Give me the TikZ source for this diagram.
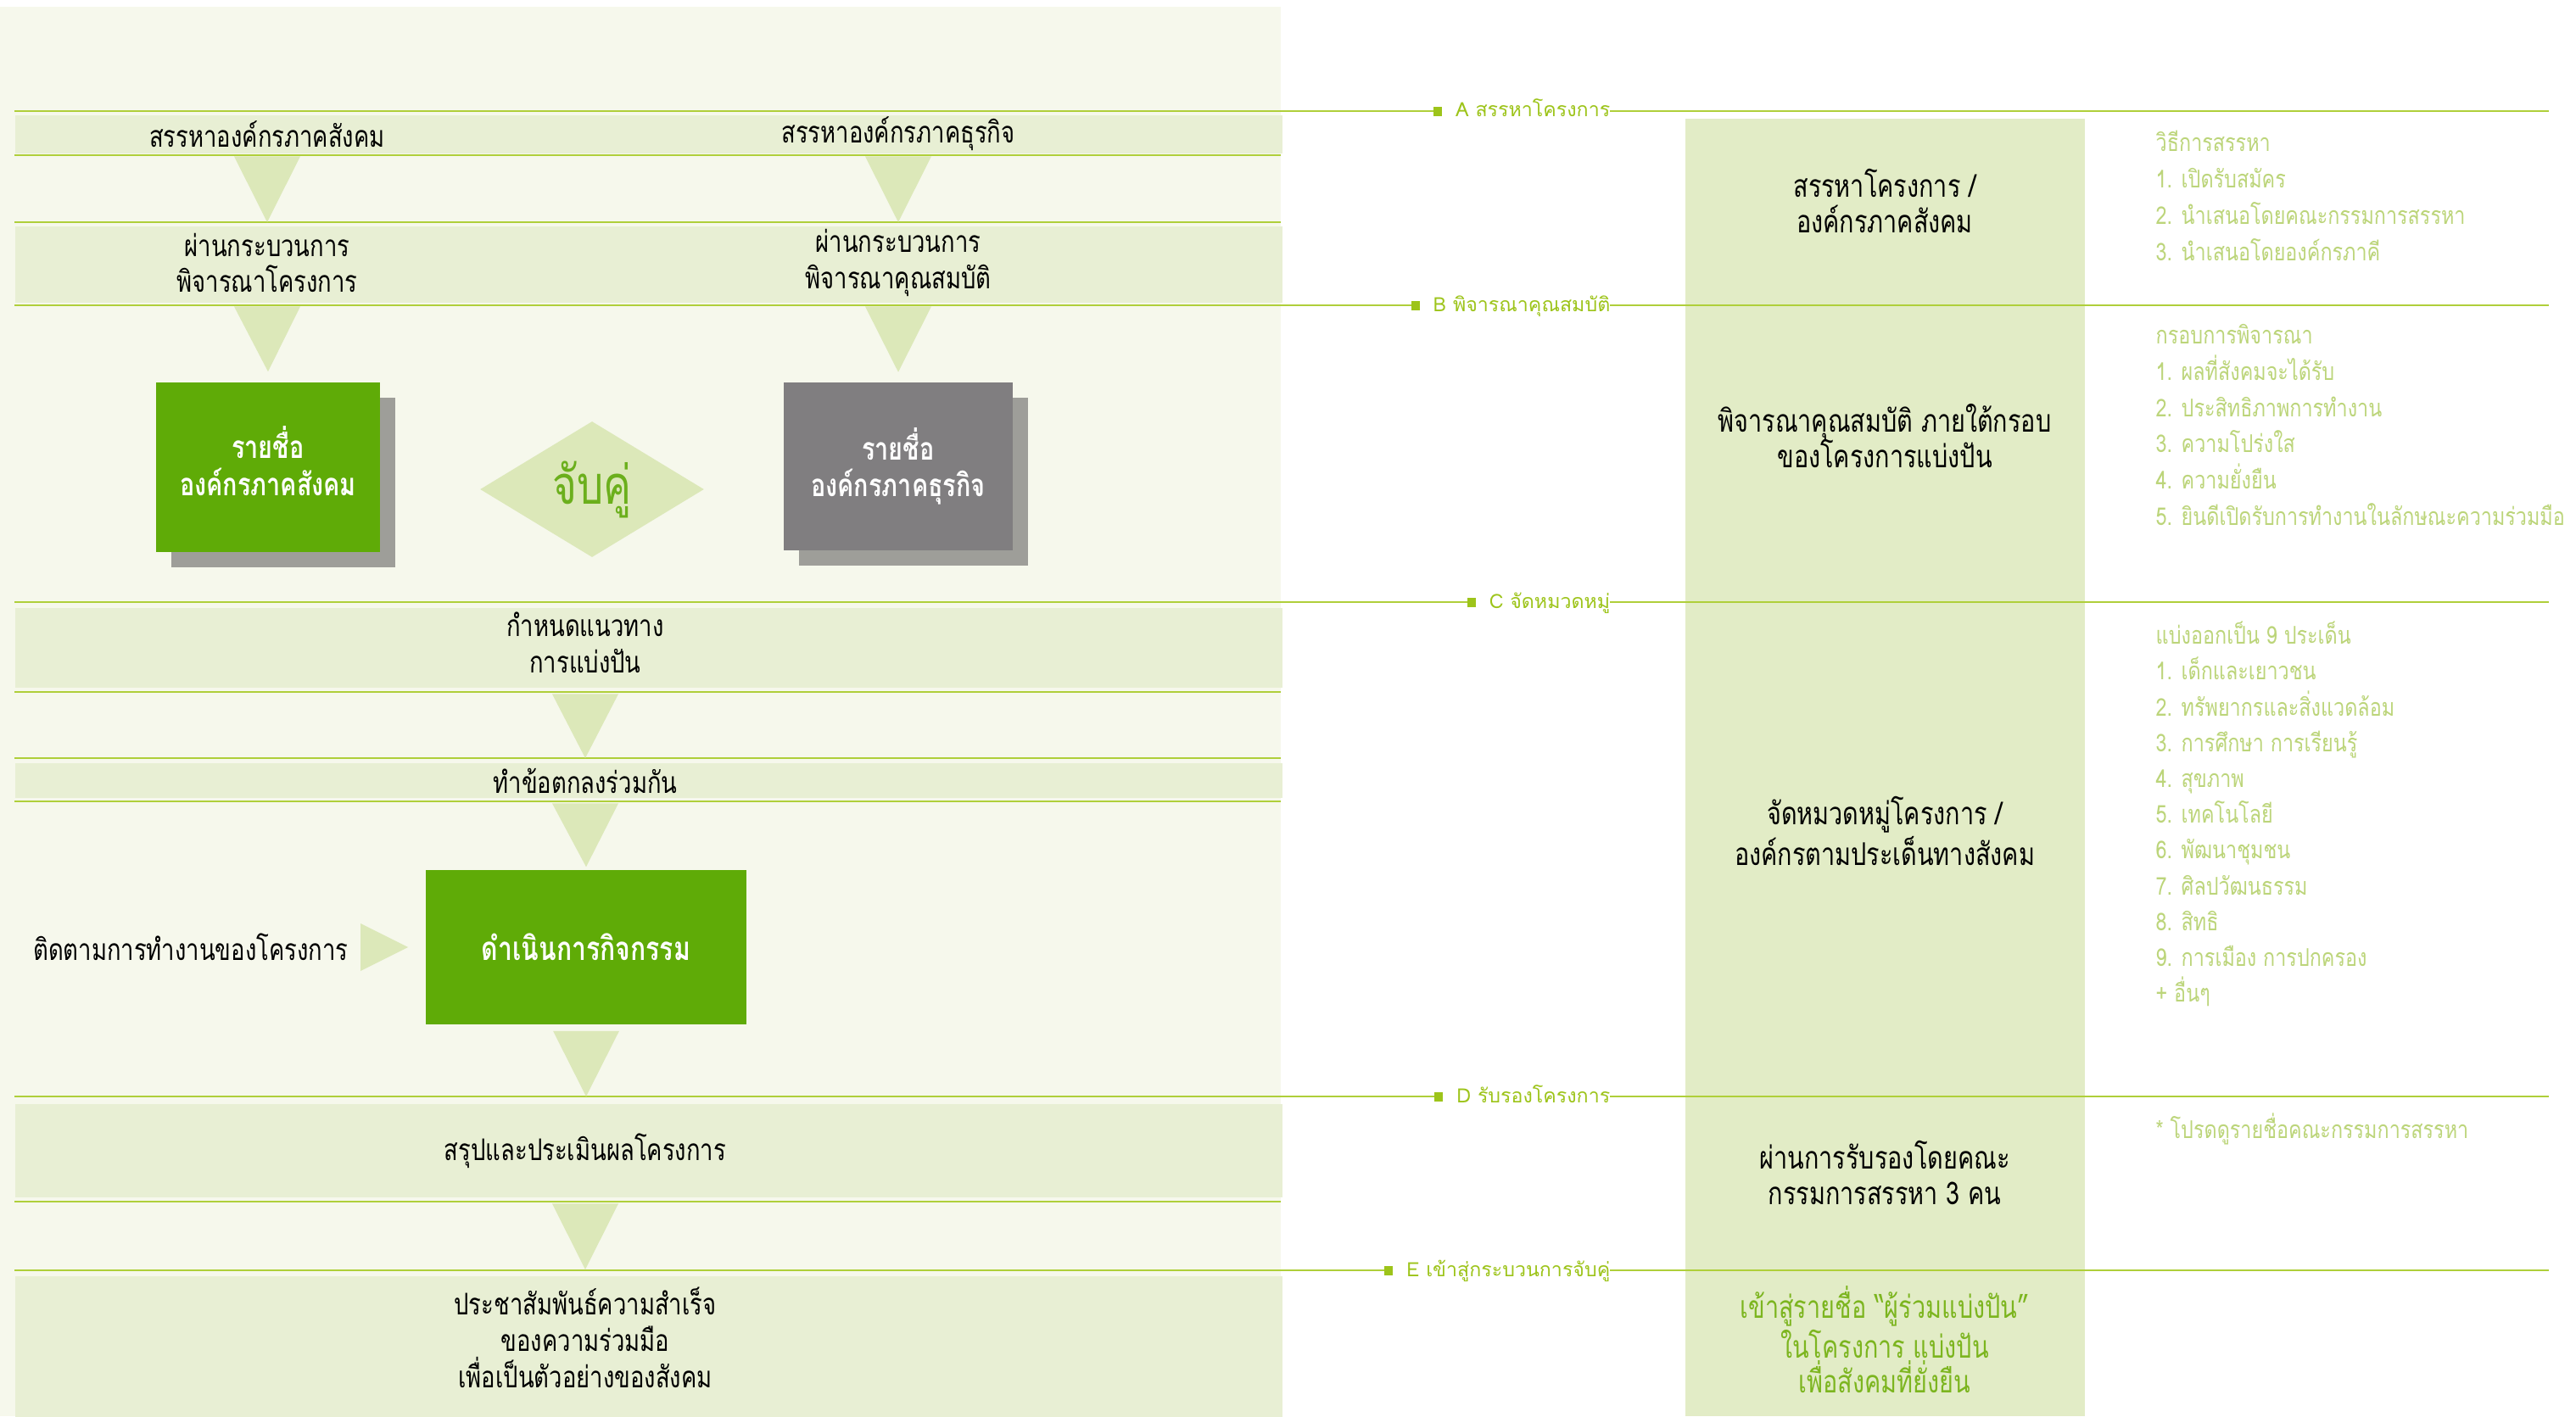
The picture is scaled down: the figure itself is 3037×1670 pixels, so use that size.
\documentclass[tikz,border=0pt]{standalone}
\usepackage{fontspec}
\newfontfamily\thaifont[Script=Thai]{Loma}
\newfontfamily\thaicond[Script=Thai,FakeStretch=0.78]{Loma}
\newfontfamily\thailist[Script=Thai,FakeStretch=0.81]{Loma}
\usetikzlibrary{shapes.geometric, shadows, calc}

\definecolor{panelbg}{HTML}{F6F8EC}
\definecolor{bandfill}{HTML}{E8EFD4}
\definecolor{colfill}{HTML}{E2ECC6}
\definecolor{funnelfill}{HTML}{DCE8B9}
\definecolor{linegreen}{HTML}{AFCF3A}
\definecolor{labelgreen}{HTML}{9DC41A}
\definecolor{listgreen}{HTML}{BCD57A}
\definecolor{boxgreen}{HTML}{5FAB07}
\definecolor{boxgrey}{HTML}{807E80}
\definecolor{shadowgrey}{HTML}{9E9E99}
\definecolor{matchgreen}{HTML}{6BAF1C}
\definecolor{finalgreen}{HTML}{7CB51F}

\newcommand\phasemark{\textcolor{labelgreen}{\rule[0.01cm]{0.10cm}{0.11cm}}\hspace{0.16cm}}

\begin{document}
\begin{tikzpicture}[x=0.01cm, y=-0.01cm,% pixel units
	band/.style={fill=bandfill, minimum width=14.93cm, inner sep=0, anchor=north west},
	flowtext/.style={font=\thaicond\fontsize{10}{12.2}\selectfont, align=center, inner sep=0},
	namebox/.style={text=white, font=\thaicond\bfseries\fontsize{10.5}{12.4}\selectfont, align=center, inner sep=0},
	shadowed/.style={drop shadow={shadow xshift=0.18cm, shadow yshift=-0.18cm, fill=shadowgrey, opacity=1}},
	funnel/.style={fill=funnelfill},
	bandline/.style={draw=linegreen, line width=0.6pt},
	phase/.style={anchor=base east, fill=white, inner xsep=0, inner ysep=0.03cm, text=labelgreen,
		font=\thaifont\fontsize{6.6}{8}\selectfont},
	coltext/.style={font=\thaicond\fontsize{10.5}{12.2}\selectfont, align=center, inner sep=0},
	listtext/.style={anchor=west, align=left, text=listgreen, inner sep=0,
		font=\thailist\fontsize{8.2}{12.2}\selectfont}]

\fill[white] (0,0) rectangle (3037,1670);
\useasboundingbox (0,0) rectangle (3037,1670);

% Pannell esquerre i columna dreta
\fill[panelbg] (0,8) rectangle (1510,1670);
\fill[colfill] (1987,140) rectangle (2458,1670);

\node[band, minimum height=0.45cm]	(B1) at (17,135)	{};
\node[band, minimum height=0.90cm]	(B2) at (17,266)	{};
\node[band, minimum height=0.94cm]	(B3) at (17,716)	{};
\node[band, minimum height=0.41cm]	(B4) at (17,899)	{};
\node[band, minimum height=1.10cm]	(B5) at (17,1301)	{};
\node[band, minimum height=1.66cm]	(B6) at (17,1504)	{};

%%%%%%%%%%%%%%%%%%%%%%%%%%%%%%%%%%%%%%%%%%%%%%%%%%%%%%%%%%%%%%%%%%%%%%%%%%%%%%%%
% Linies de fase
%%%%%%%%%%%%%%%%%%%%%%%%%%%%%%%%%%%%%%%%%%%%%%%%%%%%%%%%%%%%%%%%%%%%%%%%%%%%%%%%
\foreach \y in {183, 262, 816, 894, 945, 1417}
	\draw[bandline] (17,\y) -- (1510,\y);
\foreach \y in {131, 360, 710, 1293, 1498}
	\draw[bandline] (17,\y) -- (3005,\y);

\node[phase] (PA) at (1899,138)		{\phasemark A สรรหาโครงการ};
\node[phase] (PB) at (1899,367)		{\phasemark B พิจารณาคุณสมบัติ};
\node[phase] (PC) at (1899,717)		{\phasemark C จัดหมวดหมู่};
\node[phase] (PD) at (1899,1300)	{\phasemark D รับรองโครงการ};
\node[phase] (PE) at (1899,1505)	{\phasemark E เข้าสู่กระบวนการจับคู่};

%%%%%%%%%%%%%%%%%%%%%%%%%%%%%%%%%%%%%%%%%%%%%%%%%%%%%%%%%%%%%%%%%%%%%%%%%%%%%%%%
% Flux esquerre
%%%%%%%%%%%%%%%%%%%%%%%%%%%%%%%%%%%%%%%%%%%%%%%%%%%%%%%%%%%%%%%%%%%%%%%%%%%%%%%%
\node[flowtext] (TL1) at (315,158)	{สรรหาองค์กรภาคสังคม};
\node[flowtext] (TR1) at (1059,158)	{สรรหาองค์กรภาคธุรกิจ};
\node[flowtext] (TL2) at (315,310)	{ผ่านกระบวนการ\\พิจารณาโครงการ};
\node[flowtext] (TR2) at (1059,310)	{ผ่านกระบวนการ\\พิจารณาคุณสมบัติ};

\node[namebox, shadowed, fill=boxgreen, minimum width=2.64cm, minimum height=2.00cm, text depth=0.15cm]
	(ListS) at (316,551) {รายชื่อ\\องค์กรภาคสังคม};
\node[namebox, shadowed, fill=boxgrey, minimum width=2.70cm, minimum height=1.97cm, text depth=0.10cm]
	(ListB) at (1059,550) {รายชื่อ\\องค์กรภาคธุรกิจ};
\node[diamond, fill=funnelfill, minimum width=2.64cm, minimum height=1.31cm, inner sep=0,
	text=matchgreen, font=\thaicond\fontsize{18}{19}\selectfont]
	(Match) at (698,577) {จับคู่};

\node[flowtext] (T3) at (690,758)	{กำหนดแนวทาง\\การแบ่งปัน};
\node[flowtext] (T4) at (690,921)	{ทำข้อตกลงร่วมกัน};
\node[namebox, fill=boxgreen, minimum width=3.78cm, minimum height=1.82cm,
	font=\thaicond\bfseries\fontsize{11}{12.4}\selectfont]
	(Act) at (691,1117) {ดำเนินการกิจกรรม};
\node[flowtext, anchor=east] (Follow) at ($(Act.west)+(-90,0)$) {ติดตามการทำงานของโครงการ};
\node[flowtext] (T5) at (690,1357)	{สรุปและประเมินผลโครงการ};
\node[flowtext] (T6) at (690,1577)	{ประชาสัมพันธ์ความสำเร็จ\\ของความร่วมมือ\\เพื่อเป็นตัวอย่างของสังคม};

% Fletxes triangulars
\fill[funnel] ($(B1.south -| TL1)+(-39,3)$) -- ($(B1.south -| TL1)+(39,3)$) -- ($(B2.north -| TL1)+(0,-4)$) -- cycle;
\fill[funnel] ($(B1.south -| TR1)+(-39,3)$) -- ($(B1.south -| TR1)+(39,3)$) -- ($(B2.north -| TR1)+(0,-4)$) -- cycle;
\fill[funnel] ($(B2.south -| TL2)+(-39,4)$) -- ($(B2.south -| TL2)+(39,4)$) -- ($(ListS.north)+(0,-12)$) -- cycle;
\fill[funnel] ($(B2.south -| TR2)+(-39,4)$) -- ($(B2.south -| TR2)+(39,4)$) -- ($(ListB.north)+(0,-12)$) -- cycle;
\fill[funnel] ($(B3.south -| T3)+(-39,7)$) -- ($(B3.south -| T3)+(39,7)$) -- ($(B4.north -| T3)+(0,-5)$) -- cycle;
\fill[funnel] ($(B4.south -| T4)+(-39,6)$) -- ($(B4.south -| T4)+(39,6)$) -- ($(Act.north)+(0,-3)$) -- cycle;
\fill[funnel] ($(Act.south)+(-39,7)$) -- ($(Act.south)+(39,7)$) -- ($(B5.north -| Act)+(0,-8)$) -- cycle;
\fill[funnel] ($(B5.south -| T5)+(-39,7)$) -- ($(B5.south -| T5)+(39,7)$) -- ($(B6.north -| T5)+(0,-7)$) -- cycle;
\fill[funnel] ($(Act.west)+(-76,-28)$) -- ($(Act.west)+(-20,0)$) -- ($(Act.west)+(-76,28)$) -- cycle;

%%%%%%%%%%%%%%%%%%%%%%%%%%%%%%%%%%%%%%%%%%%%%%%%%%%%%%%%%%%%%%%%%%%%%%%%%%%%%%%%
% Columna dreta
%%%%%%%%%%%%%%%%%%%%%%%%%%%%%%%%%%%%%%%%%%%%%%%%%%%%%%%%%%%%%%%%%%%%%%%%%%%%%%%%
\node[coltext] (CA) at (2222,237)	{สรรหาโครงการ /\\องค์กรภาคสังคม};
\node[coltext] (CB) at (2222,514)	{พิจารณาคุณสมบัติ ภายใต้กรอบ\\ของโครงการแบ่งปัน};
\node[coltext, font=\thaicond\fontsize{10.5}{11.7}\selectfont]
	(CC) at (2222,980)	{จัดหมวดหมู่โครงการ /\\องค์กรตามประเด็นทางสังคม};
\node[coltext] (CD) at (2222,1383)	{ผ่านการรับรองโดยคณะ\\กรรมการสรรหา 3 คน};
\node[coltext, text=finalgreen, font=\thaicond\fontsize{10.5}{11.8}\selectfont]
	(CE) at (2222,1580)	{เข้าสู่รายชื่อ “ผู้ร่วมแบ่งปัน”\\ในโครงการ แบ่งปัน\\เพื่อสังคมที่ยั่งยืน};

\node[listtext] (LA) at (2541,231)	{วิธีการสรรหา\\1. เปิดรับสมัคร\\2. นำเสนอโดยคณะกรรมการสรรหา\\3. นำเสนอโดยองค์กรภาคี};
\node[listtext] (LB) at (2541,501)	{กรอบการพิจารณา\\1. ผลที่สังคมจะได้รับ\\2. ประสิทธิภาพการทำงาน\\3. ความโปร่งใส\\4. ความยั่งยืน\\5. ยินดีเปิดรับการทำงานในลักษณะความร่วมมือ};
\node[listtext, font=\thailist\fontsize{8.2}{12}\selectfont]
	(LC) at (2541,960)	{แบ่งออกเป็น 9 ประเด็น\\1. เด็กและเยาวชน\\2. ทรัพยากรและสิ่งแวดล้อม\\3. การศึกษา การเรียนรู้\\4. สุขภาพ\\5. เทคโนโลยี\\6. พัฒนาชุมชน\\7. ศิลปวัฒนธรรม\\8. สิทธิ\\9. การเมือง การปกครอง\\+ อื่นๆ};
\node[listtext] (LD) at (2541,1331)	{* โปรดดูรายชื่อคณะกรรมการสรรหา};

\end{tikzpicture}
\end{document}
